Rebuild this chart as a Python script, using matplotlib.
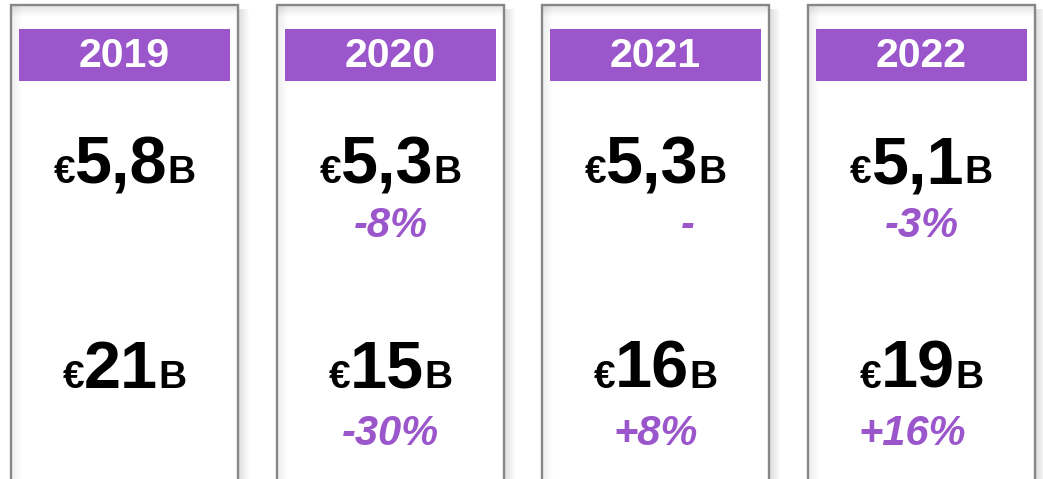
import matplotlib
matplotlib.use("Agg")
import matplotlib.pyplot as plt
from matplotlib.patches import Rectangle

# ---- data ----
years = ["2019", "2020", "2021", "2022"]
top_values = ["5,8", "5,3", "5,3", "5,1"]
top_changes = ["", "-8%", "-", "-3%"]
bottom_values = ["21", "15", "16", "19"]
bottom_changes = ["", "-30%", "+8%", "+16%"]

# ---- style / layout ----
W, H = 1043, 479
PURPLE = "#9a56ca"
BORDER = "#878787"
FONT = "Liberation Sans"
panel_left = [11, 277, 542, 808]
panel_w = 227
panel_top = 5
change_dx = {"-": 32, "+16%": -9}

fig = plt.figure(figsize=(W / 100, H / 100), dpi=100)
ax = fig.add_axes([0, 0, 1, 1])
ax.set_xlim(0, W)
ax.set_ylim(H, 0)
ax.axis("off")

renderer = fig.canvas.get_renderer()


def composite(cx, baseline, pieces):
    texts = []
    for s, size in pieces:
        t = ax.text(0, baseline, s, fontsize=size, fontweight="bold",
                    family=FONT, ha="left", va="baseline", color="black")
        texts.append(t)
    widths = [t.get_window_extent(renderer).width for t in texts]
    x = cx - sum(widths) / 2
    for t, w in zip(texts, widths):
        t.set_x(x)
        x += w


for i, left in enumerate(panel_left):
    right = left + panel_w
    cx = left + panel_w / 2
    # shadows
    for k in range(10):
        a = 0.16 * (1 - k / 10)
        ax.add_patch(Rectangle((right + 1 + k, panel_top + 4), 1, H, color="black",
                               alpha=a * 0.8, lw=0))
        ax.add_patch(Rectangle((left + 1, panel_top + 1 + k), panel_w - 1, 1,
                               color="black", alpha=a * 0.6, lw=0))
        ax.add_patch(Rectangle((left + 1 + k, panel_top + 1), 1, H, color="black",
                               alpha=a * 0.4, lw=0))
    # border
    ax.plot([left, left, right, right], [H + 5, panel_top, panel_top, H + 5],
            color=BORDER, lw=1.7, solid_joinstyle="miter")
    # header
    ax.add_patch(Rectangle((left + 8, 29), panel_w - 16, 52, color=PURPLE, lw=0))
    ax.text(cx, 56, years[i], color="white", fontsize=29.5, fontweight="bold",
            family=FONT, ha="center", va="center")
    # values
    composite(cx, 183, [("€", 28), (top_values[i], 48), ("B", 28)])
    composite(cx, 388, [("€", 28), (bottom_values[i], 48), ("B", 28)])
    # changes
    for txt, base in ((top_changes[i], 237), (bottom_changes[i], 445)):
        if txt:
            ax.text(cx + change_dx.get(txt, 0), base, txt, color=PURPLE,
                    fontsize=30, fontweight="bold", style="italic",
                    family=FONT, ha="center", va="baseline")

fig.savefig("out.png", dpi=100)
